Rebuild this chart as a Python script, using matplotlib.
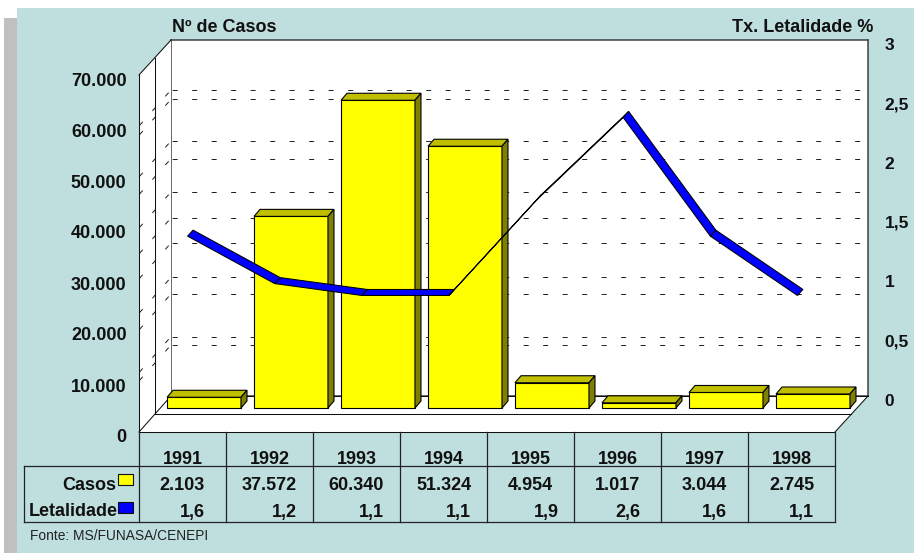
import matplotlib
matplotlib.use('Agg')
import matplotlib.pyplot as plt
from matplotlib.patches import Polygon, Rectangle
from matplotlib.lines import Line2D
from matplotlib.transforms import Affine2D

anos = [1991, 1992, 1993, 1994, 1995, 1996, 1997, 1998]
casos = [2103, 37572, 60340, 51324, 4954, 1017, 3044, 2745]
letalidade = [1.6, 1.2, 1.1, 1.1, 1.9, 2.6, 1.6, 1.1]
casos_ticks = [0, 10000, 20000, 30000, 40000, 50000, 60000, 70000]
letal_ticks = [0, 0.5, 1, 1.5, 2, 2.5, 3]

W, H = 914, 553
PANEL = '#BFDEDE'
INK = '#111111'
FONT = 'Liberation Sans'

plt.rcParams['font.family'] = FONT
plt.rcParams['font.weight'] = 'bold'
plt.rcParams['lines.scale_dashes'] = False


def milhar(v):
    return f'{v:,}'.replace(',', '.')


def virgula(v):
    return f'{v:g}'.replace('.', ',')


fig = plt.figure(figsize=(W / 100, H / 100), dpi=100)
# pixel coordinates, y going down, for the frame around the plot
px = Affine2D().scale(1, -1).translate(0, H)

fig.add_artist(Rectangle((4, 18), 13, H - 18, transform=px, color='#C0C0C0', lw=0, zorder=-2))
fig.add_artist(Rectangle((17, 8), W - 17, H - 8, transform=px, color=PANEL, lw=0, zorder=-2))

# back wall carries the letalidade scale, front plane the casos scale
ax2 = fig.add_axes([171 / W, (H - 396) / H, 697 / W, 356 / H], zorder=1)
ax = fig.add_axes([139 / W, (H - 432) / H, 696 / W, 357 / H], zorder=2)
ax.patch.set_visible(False)
ax.set_xlim(0, 8)
ax.set_ylim(0, 70000)
ax2.set_xlim(0, 8)
ax2.set_ylim(0, 3)

xc = [i + 0.5 for i in range(len(anos))]
per_px_x = 8 / 696
per_px_y = 70000 / 357
per_px_l = 3 / 356

dash = (13.2, (3.6, 10.44))
dash_wall = (11.5, (3.6, 10.44))

# grids on the back wall
ax.hlines(casos_ticks[1:-1], 0, 8, transform=ax.transData + Affine2D().translate(32, 36),
          colors='#222222', lw=0.72, linestyles=[dash], clip_on=False, zorder=0.5)
ax2.hlines(letal_ticks[1:-1], 0, 8, colors='#222222', lw=0.72, linestyles=[dash], zorder=1)

# white left wall and floor
ax.add_patch(Polygon([(139, 75), (171, 40), (171, 396), (139, 432)], transform=px, fc='white', ec='none', clip_on=False, zorder=0.2))
ax.add_patch(Polygon([(139, 432), (835, 432), (868, 396), (171, 396)], transform=px, fc='white', ec='none', clip_on=False, zorder=1))

# grids continued on the left wall
for v in casos_ticks[1:-1]:
    ax.plot([32 * per_px_x, 0], [v + 36 * per_px_y, v], color='#222222', lw=0.72, ls=dash_wall, clip_on=False, zorder=0.6)
for v in letal_ticks[1:-1]:
    ax.plot([0, -32 * per_px_x], [v, v - 36 * per_px_l], color='#222222', lw=0.72, ls=dash_wall,
            transform=ax2.transData, clip_on=False, zorder=0.6)

# structure lines
frame = [
    ([139, 171], [75, 40]),
    ([155, 155], [58, 414]),
    ([139, 171], [432, 396]),
    ([171, 868], [396, 396]),
    ([155, 851], [414, 414]),
    ([835, 868], [432, 396]),
]
for xs, ys in frame:
    ax.plot(xs, ys, color='#111111', lw=0.75, transform=px, clip_on=False, zorder=1.2)

# bars
bar_shift = ax.transData + Affine2D().translate(21.5, 24)
largura = 0.85
bdx = 6 * per_px_x
bdy = 7 * per_px_y
ax.bar(xc, casos, width=largura, color='#FFFF00', edgecolor='black', lw=0.8, transform=bar_shift, clip_on=False, zorder=3)
for x, v in zip(xc, casos):
    x0, x1 = x - largura / 2, x + largura / 2
    ax.add_patch(Polygon([(x0, v), (x1, v), (x1 + bdx, v + bdy), (x0 + bdx, v + bdy)], transform=bar_shift,
                         fc='#BFBF00', ec='black', lw=0.8, clip_on=False, zorder=3))
    ax.add_patch(Polygon([(x1, 0), (x1 + bdx, bdy), (x1 + bdx, v + bdy), (x1, v)], transform=bar_shift,
                         fc='#808000', ec='black', lw=0.8, clip_on=False, zorder=3))

# letalidade ribbon
rib_shift = ax2.transData + Affine2D().translate(-27, -30)
rdx = 5.5 * per_px_x
rdy = 6 * per_px_l
for i in range(len(anos) - 1):
    xa, xb = xc[i], xc[i + 1]
    ya, yb = letalidade[i], letalidade[i + 1]
    ax.add_patch(Polygon([(xa, ya), (xb, yb), (xb + rdx, yb + rdy), (xa + rdx, ya + rdy)], transform=rib_shift,
                         fc='#0000FF', ec='black', lw=0.75, clip_on=False, zorder=4))

# axes
for s in ax.spines.values():
    s.set_visible(False)
for side in ['left', 'bottom']:
    ax.spines[side].set_visible(True)
    ax.spines[side].set_linewidth(0.75)
    ax.spines[side].set_color('#111111')
for s in ax2.spines.values():
    s.set_linewidth(1.1)
    s.set_color('#404040')

ax.set_xticks(xc, [str(a) for a in anos], fontsize=13, color=INK)
ax.set_yticks(casos_ticks, [milhar(v) for v in casos_ticks], fontsize=13, color=INK)
ax.tick_params(length=0)
ax.tick_params(axis='x', pad=13.5)
ax.tick_params(axis='y', pad=9)
ax2.set_xticks([])
ax2.yaxis.tick_right()
ax2.set_yticks(letal_ticks, [virgula(v) for v in letal_ticks], fontsize=12.5, color=INK)
ax2.tick_params(length=0, pad=12)
for lab in ax.get_yticklabels() + ax2.get_yticklabels():
    lab.set_transform(lab.get_transform() + Affine2D().translate(0, -4))

# table under the plot
tabela = [
    ([24, 835], [466, 466]),
    ([24, 835], [522, 522]),
    ([24, 24], [466, 522]),
]
for i in range(9):
    tabela.append(([139 + 87 * i, 139 + 87 * i], [432, 522]))
for xs, ys in tabela:
    fig.add_artist(Line2D(xs, ys, color='#222222', lw=0.9, transform=px, zorder=3))

col = ax.get_xaxis_transform()
linha1 = (432 - 485.5) / 357
linha2 = (432 - 512) / 357
desvio = [0.115, 0.172, 0.172, 0.172, 0.185, 0.115, 0.115, 0.115]
for x, c, l, d in zip(xc, casos, letalidade, desvio):
    ax.text(x, linha1, milhar(c), transform=col, ha='center', va='center', fontsize=13, color=INK, clip_on=False)
    ax.text(x + d, linha2, virgula(l), transform=col, ha='center', va='center', fontsize=13, color=INK, clip_on=False)

fig.text(116, 485, 'Casos', transform=px, ha='right', va='center', fontsize=13, color=INK)
fig.text(118, 512, 'Letalidade', transform=px, ha='right', va='center', fontsize=13, color=INK)
fig.add_artist(Rectangle((118, 474), 15, 11, transform=px, fc='#FFFF00', ec='#111111', lw=0.8, zorder=3))
fig.add_artist(Rectangle((118, 502), 15, 11, transform=px, fc='#0000FF', ec='#111111', lw=0.8, zorder=3))

fig.text(172, 28, 'Nº de Casos', transform=px, ha='left', va='center', fontsize=13, color=INK)
fig.text(873, 28, 'Tx. Letalidade %', transform=px, ha='right', va='center', fontsize=13, color=INK)
fig.text(30, 536, 'Fonte: MS/FUNASA/CENEPI', transform=px, ha='left', va='center', fontsize=9.9, weight='normal', color='#222222')

fig.savefig('out.png', dpi=100)
